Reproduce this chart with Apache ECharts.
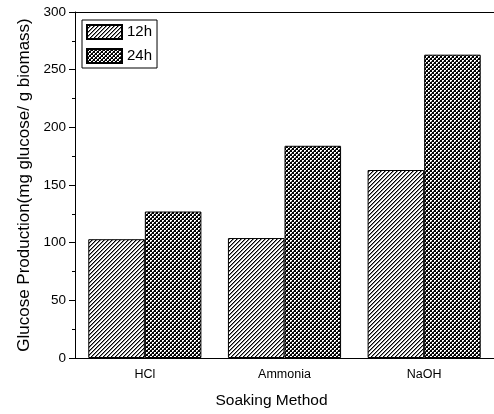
<!DOCTYPE html>
<html>
<head>
<meta charset="utf-8">
<script src="https://cdn.jsdelivr.net/npm/echarts@6/dist/echarts.min.js"></script>
<style>html,body{margin:0;padding:0;background:#fff}#c{width:494px;height:414px}</style>
</head>
<body>
<div id="c"></div>
<script>
var categories = ['HCl', 'Ammonia', 'NaOH'];
var seriesNames = ['12h', '24h'];
var values12h = [103, 104, 163];
var values24h = [127, 184, 263];
var yTicks = [0, 50, 100, 150, 200, 250, 300];

function hatch() {
  var c = document.createElement('canvas');
  c.width = 4; c.height = 4;
  var g = c.getContext('2d');
  g.fillStyle = '#fff'; g.fillRect(0, 0, 4, 4);
  for (var x = 0; x < 4; x++) for (var y = 0; y < 4; y++) {
    if ((x + y) % 4 === 3) { g.fillStyle = '#000'; g.fillRect(x, y, 1, 1); }
    if ((x + y) % 4 === 0) { g.fillStyle = '#8a8a8a'; g.fillRect(x, y, 1, 1); }
  }
  return c;
}
function checker() {
  var c = document.createElement('canvas');
  c.width = 4; c.height = 4;
  var g = c.getContext('2d');
  g.fillStyle = '#fff'; g.fillRect(0, 0, 4, 4);
  g.fillStyle = '#000';
  g.fillRect(0, 0, 2, 2); g.fillRect(2, 2, 2, 2);
  g.fillStyle = '#555';
  g.fillRect(3, 1, 1, 1); g.fillRect(1, 3, 1, 1);
  return c;
}

var font = '"Liberation Sans", Arial, sans-serif';
var chart = echarts.init(document.getElementById('c'));
chart.setOption({
  animation: false,
  backgroundColor: '#fff',
  grid: { left: 75, top: 12, width: 424, height: 348, containLabel: false },
  legend: {
    orient: 'vertical', left: 82, top: 20,
    itemWidth: 35, itemHeight: 14, itemGap: 8,
    borderColor: '#000', borderWidth: 1, padding: [4, 5, 4, 4],
    textStyle: { fontFamily: font, fontSize: 15, color: '#000' },
    icon: 'rect',
    data: seriesNames
  },
  xAxis: [
    {
      type: 'category', data: categories, position: 'bottom',
      axisLine: { lineStyle: { color: '#000', width: 1 } },
      axisTick: { alignWithLabel: true, length: 7, lineStyle: { color: '#000' } },
      axisLabel: { fontFamily: font, fontSize: 12.5, color: '#000', margin: 10 },
      name: 'Soaking Method', nameLocation: 'middle', nameGap: 35,
      nameTextStyle: { fontFamily: font, fontSize: 15.5, color: '#000', padding: [0, 26, 0, 0] }
    },
    {
      type: 'category', data: categories, position: 'bottom',
      axisLine: { show: false },
      axisTick: { length: 4, lineStyle: { color: '#000' } },
      axisLabel: { show: false }
    },
    {
      type: 'category', data: categories, position: 'top',
      axisLine: { lineStyle: { color: '#000', width: 1 } },
      axisTick: { inside: true, alignWithLabel: true, length: 3, lineStyle: { color: '#000' } },
      axisLabel: { show: false }
    }
  ],
  yAxis: {
    type: 'value', min: 0, max: 300, interval: 50,
    axisLine: { show: true, lineStyle: { color: '#000', width: 1 } },
    axisTick: { show: true, length: 6, lineStyle: { color: '#000' } },
    minorTick: { show: true, splitNumber: 2, length: 3, lineStyle: { color: '#000' } },
    splitLine: { show: false },
    axisLabel: {
      fontFamily: font, fontSize: 13.5, color: '#000', margin: 9,
      formatter: function (v) { return yTicks.indexOf(v) >= 0 ? String(v) : ''; }
    },
    name: 'Glucose Production(mg glucose/ g biomass)', nameLocation: 'middle', nameGap: 42,
    nameTextStyle: { fontFamily: font, fontSize: 17, color: '#000' }
  },
  series: [
    {
      name: seriesNames[0], type: 'bar', data: values12h, xAxisIndex: 0,
      barGap: '0%', barCategoryGap: '19%',
      itemStyle: { color: { image: hatch(), repeat: 'repeat' }, borderColor: '#000', borderWidth: 1 }
    },
    {
      name: seriesNames[1], type: 'bar', data: values24h, xAxisIndex: 0,
      barGap: '0%', barCategoryGap: '19%',
      itemStyle: { color: { image: checker(), repeat: 'repeat' }, borderColor: '#000', borderWidth: 1 }
    }
  ]
});
</script>
</body>
</html>
